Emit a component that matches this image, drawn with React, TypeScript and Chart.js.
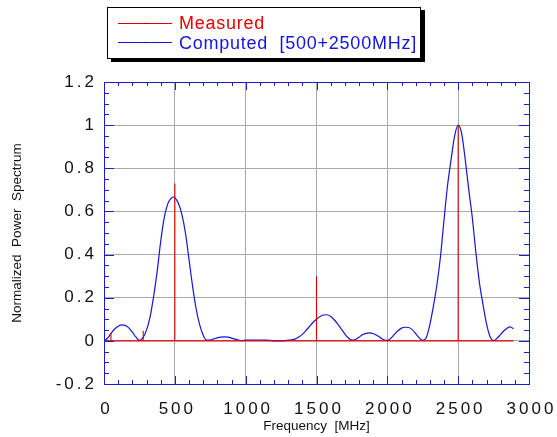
import React, { useEffect, useRef } from 'react';
import { Chart, registerables } from 'chart.js';

Chart.register(...registerables);

// ---- data ----
const xTickLabels = ['0', '500', '1000', '1500', '2000', '2500', '3000'];
const yTickLabels = ['-0.2', '0', '0.2', '0.4', '0.6', '0.8', '1', '1.2'];

const measuredFreq = [49, 277, 500, 1500, 2500];
const measuredValue = [0.036, 0.046, 0.73, 0.3, 1.0];
const measuredStart = 0;
const measuredEnd = 2890;

const computedFreq = [
  0, 25, 50, 75, 100, 125, 150, 175, 200, 225, 250, 275, 300, 325, 350, 375, 400, 425, 450, 475, 490, 500,
  525, 550, 575, 600, 625, 650, 675, 700, 725, 750, 775, 800, 825, 850, 875, 900, 925, 950, 975, 1000,
  1025, 1050, 1075, 1100, 1125, 1150, 1175, 1200, 1225, 1250, 1275, 1300, 1325, 1350, 1375, 1400, 1425,
  1450, 1475, 1500, 1525, 1550, 1575, 1600, 1625, 1650, 1675, 1700, 1725, 1750, 1775, 1800, 1825, 1850,
  1875, 1900, 1925, 1950, 1975, 2000, 2025, 2050, 2075, 2100, 2125, 2150, 2175, 2200, 2225, 2250, 2275,
  2300, 2325, 2350, 2375, 2400, 2425, 2450, 2475, 2500, 2525, 2550, 2575, 2600, 2625, 2650, 2675, 2700,
  2725, 2750, 2775, 2800, 2825, 2850, 2865, 2875, 2890,
];
const computedValue = [
  0, 0.012, 0.035, 0.055, 0.068, 0.074, 0.072, 0.06, 0.04, 0.018, 0.002, 0.015, 0.05, 0.11, 0.205, 0.32,
  0.46, 0.57, 0.635, 0.662, 0.667, 0.664, 0.638, 0.585, 0.5, 0.378, 0.255, 0.15, 0.075, 0.026, 0.003,
  0.004, 0.009, 0.014, 0.017, 0.018, 0.017, 0.013, 0.008, 0.004, 0.001, 0.003, 0.004, 0.004, 0.004,
  0.004, 0.004, 0.003, 0.002, 0, 0, 0, 0.001, 0.003, 0.005, 0.009, 0.018, 0.03, 0.047, 0.066, 0.085,
  0.1, 0.113, 0.12, 0.121, 0.113, 0.098, 0.078, 0.055, 0.032, 0.013, 0.003, 0.006, 0.017, 0.028, 0.035,
  0.037, 0.034, 0.026, 0.015, 0.005, 0.002, 0.012, 0.03, 0.047, 0.059, 0.063, 0.062, 0.052, 0.034,
  0.014, 0.002, 0.015, 0.075, 0.16, 0.26, 0.39, 0.56, 0.72, 0.84, 0.95, 1.0, 0.96, 0.84, 0.7, 0.57,
  0.41, 0.27, 0.17, 0.08, 0.02, 0.001, 0.012, 0.03, 0.048, 0.061, 0.065, 0.063, 0.056,
];

const xMin = 0;
const xMax = 3000;
const xStep = 500;
const xMinorStep = 100;
const yMin = -0.2;
const yMax = 1.2;
const yStep = 0.2;
const yMinorStep = 0.05;

// ---- styles ----
const RED = '#dd0000';
const BLUE = '#1515d8';
const AXIS_BLUE = '#1c1cd0';
const GRID = '#aaaaaa';
const FONT = "'Liberation Sans', Arial, Helvetica, sans-serif";

const framePlugin = {
  id: 'frameTicks',
  afterDatasetsDraw(chart: any) {
    const { ctx, chartArea: a, scales } = chart;
    const xs = scales.x;
    const ys = scales.y;
    ctx.save();
    ctx.strokeStyle = AXIS_BLUE;
    ctx.lineWidth = 1;
    ctx.beginPath();
    const nx = Math.round((xMax - xMin) / xMinorStep);
    for (let i = 0; i <= nx; i++) {
      const v = xMin + i * xMinorStep;
      const px = Math.round(xs.getPixelForValue(v)) + 0.5;
      const len = i % Math.round(xStep / xMinorStep) === 0 ? 8 : 4;
      ctx.moveTo(px, a.bottom);
      ctx.lineTo(px, a.bottom - len);
      ctx.moveTo(px, a.top);
      ctx.lineTo(px, a.top + len);
    }
    const ny = Math.round((yMax - yMin) / yMinorStep);
    for (let k = 0; k <= ny; k++) {
      const v = yMin + k * yMinorStep;
      const py = Math.round(ys.getPixelForValue(v)) + 0.5;
      const len = k % Math.round(yStep / yMinorStep) === 0 ? 10 : 5;
      ctx.moveTo(a.left, py);
      ctx.lineTo(a.left + len, py);
      ctx.moveTo(a.right, py);
      ctx.lineTo(a.right - len, py);
    }
    ctx.stroke();
    ctx.strokeRect(
      Math.round(a.left) + 0.5,
      Math.round(a.top) + 0.5,
      Math.round(a.right) - Math.round(a.left),
      Math.round(a.bottom) - Math.round(a.top)
    );
    ctx.restore();
    // tick labels (drawn after datasets, z=1) get letter spacing
    ctx.letterSpacing = '3px';
  },
  afterDraw(chart: any) {
    chart.ctx.letterSpacing = '0px';
  },
};

export default function App() {
  const canvasRef = useRef<HTMLCanvasElement | null>(null);

  useEffect(() => {
    const canvas = canvasRef.current;
    if (!canvas) return;

    const measuredData: { x: number; y: number }[] = [{ x: measuredStart, y: 0 }];
    measuredFreq.forEach((f, i) => {
      measuredData.push({ x: f, y: 0 });
      measuredData.push({ x: f, y: measuredValue[i] });
      measuredData.push({ x: f, y: 0 });
    });
    measuredData.push({ x: measuredEnd, y: 0 });

    const computedData = computedFreq.map((f, i) => ({ x: f, y: computedValue[i] }));

    const chart = new Chart(canvas, {
      type: 'line',
      data: {
        datasets: [
          {
            label: 'Measured',
            data: measuredData,
            borderColor: RED,
            backgroundColor: RED,
            borderWidth: 1.1,
            pointRadius: 0,
            tension: 0,
          },
          {
            label: 'Computed  [500+2500MHz]',
            data: computedData,
            borderColor: BLUE,
            backgroundColor: BLUE,
            borderWidth: 1.2,
            pointRadius: 0,
            cubicInterpolationMode: 'monotone',
          },
        ],
      },
      options: {
        animation: false,
        responsive: false,
        devicePixelRatio: 1,
        parsing: false,
        layout: { autoPadding: false, padding: { top: 82, right: 28, bottom: 0, left: 0 } },
        plugins: {
          legend: { display: false },
          tooltip: { enabled: false },
        },
        scales: {
          x: {
            type: 'linear',
            min: xMin,
            max: xMax,
            offset: false,
            afterFit: (s: any) => {
              s.height = 53;
              s.paddingLeft = 0;
              s.paddingRight = 0;
            },
            border: { display: false },
            grid: { color: GRID, lineWidth: 1, drawTicks: false, offset: false },
            ticks: {
              stepSize: xStep,
              z: 1,
              padding: 15,
              labelOffset: 2.5,
              maxRotation: 0,
              autoSkip: false,
              color: '#111',
              font: { family: FONT, size: 17 },
              callback: (_v: any, i: number) => xTickLabels[i],
            },
            title: {
              display: true,
              text: 'Frequency  [MHz]',
              color: '#111',
              font: { family: FONT, size: 13.5 },
              padding: { top: 0, bottom: 2.4 },
            },
          },
          y: {
            type: 'linear',
            min: yMin,
            max: yMax,
            afterFit: (s: any) => {
              s.width = 104;
              s.paddingTop = 0;
              s.paddingBottom = 0;
            },
            border: { display: false },
            grid: { color: GRID, lineWidth: 1, drawTicks: false },
            ticks: {
              stepSize: yStep,
              z: 1,
              padding: 7,
              autoSkip: false,
              color: '#111',
              font: { family: FONT, size: 17 },
              callback: (_v: any, i: number) => yTickLabels[i],
            },
            title: {
              display: true,
              text: 'Normalized  Power  Spectrum',
              color: '#111',
              font: { family: FONT, size: 13.5 },
              padding: { top: 9, bottom: 0 },
            },
          },
        },
      },
      plugins: [framePlugin],
    } as any);

    return () => {
      chart.destroy();
    };
  }, []);

  const textStyle: React.CSSProperties = {
    position: 'absolute',
    left: 179,
    fontFamily: FONT,
    fontSize: 18,
    lineHeight: '18px',
    letterSpacing: '0.75px',
    whiteSpace: 'pre',
    margin: 0,
  };

  return (
    <div
      style={{
        position: 'fixed',
        left: 0,
        top: 0,
        width: 557,
        height: 437,
        background: '#fff',
        overflow: 'hidden',
      }}
    >
      <canvas
        ref={canvasRef}
        width={557}
        height={437}
        style={{ position: 'absolute', left: 0, top: 0, width: 557, height: 437 }}
      />
      <div
        style={{
          position: 'absolute',
          left: 107,
          top: 7,
          width: 314,
          height: 52,
          boxSizing: 'border-box',
          border: '1px solid #000',
          background: '#fff',
          boxShadow: '4px 3px 0 #000',
        }}
      />
      <div style={{ position: 'absolute', left: 118, top: 23, width: 54, height: 1, background: RED }} />
      <div style={{ position: 'absolute', left: 145, top: 23, width: 1, height: 1, background: '#000' }} />
      <div style={{ position: 'absolute', left: 118, top: 42, width: 54, height: 1, background: BLUE }} />
      <div style={{ position: 'absolute', left: 145, top: 42, width: 1, height: 1, background: '#000' }} />
      <div style={{ ...textStyle, top: 14, color: '#e60000' }}>Measured</div>
      <div style={{ ...textStyle, top: 34, color: '#1414dc' }}>Computed  [500+2500MHz]</div>
    </div>
  );
}
